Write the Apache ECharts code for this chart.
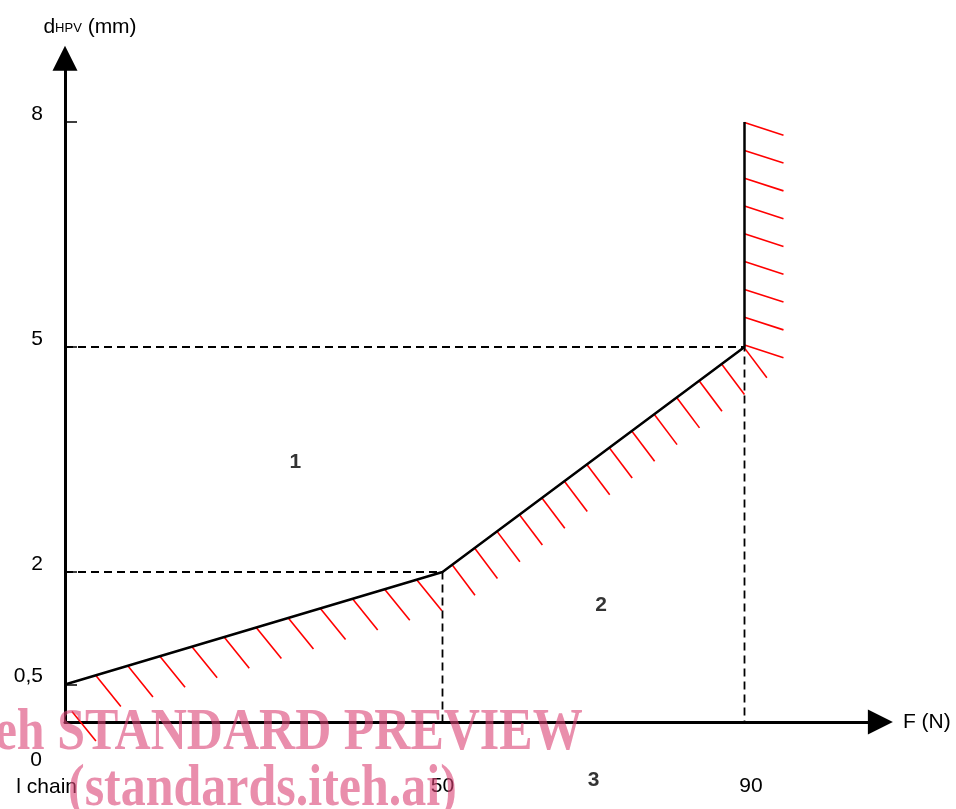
<!DOCTYPE html>
<html><head><meta charset="utf-8">
<script src="https://cdn.jsdelivr.net/npm/echarts@6/dist/echarts.min.js"></script>
<style>html,body{margin:0;padding:0;background:#fff}#c{width:956px;height:809px}</style>
</head><body><div id="c"></div>
<script>
// ---- data ----
const boundaryF = [0, 50, 90, 90];
const boundaryD = [0.5, 2, 5, 8];
const guideF = [50, 90];
const guideD = [2, 5];
const xTickValues = [0, 50, 90];
const yTickValues = [0.5, 2, 5, 8];
const regionNames = ['1', '2', '3'];
const regionF = [30.5, 71, 70];
const regionD = [3.47, 1.56, -0.77];
const xAxisName = 'F (N)';
const yAxisNameParts = ['d', 'HPV', ' (mm)'];
const sideNote = 'l chain';
const watermark = ['iTeh STANDARD PREVIEW', '(standards.iteh.ai)'];

const FONT = '"Liberation Sans", Arial, sans-serif';
const chart = echarts.init(document.getElementById('c'), null, {renderer: 'canvas'});

const boundaryData = boundaryF.map((f, i) => [f, boundaryD[i]]);
const guideSeries = guideF.map((f, i) => ({
  type: 'line', data: [[0, guideD[i]], [f, guideD[i]], [f, 0]], symbol: 'none', silent: true,
  lineStyle: {color: '#000', width: 1.8, type: [8, 5]}, z: 3
}));

function renderHatch(params, api) {
  const P = boundaryData.map(p => api.coord(p));
  const origin = api.coord([0, 0]);
  const segs = [
    {p0: P[0], p1: P[1], start: 32, step: 33.5, ang: 51, len: 40},
    {p0: P[1], p1: P[2], start: 12, step: 28, ang: 53, len: 38},
    {p0: P[2], p1: P[3], start: 2, step: 27.8, ang: 18, len: 41},
    {p0: P[0], p1: origin, start: 27, step: 1000, ang: 51, len: 38, shift: 7}
  ];
  const children = [];
  segs.forEach(s => {
    const dx = s.p1[0] - s.p0[0], dy = s.p1[1] - s.p0[1];
    const L = Math.hypot(dx, dy);
    const ux = dx / L, uy = dy / L;
    const hx = Math.cos(s.ang * Math.PI / 180) * s.len, hy = Math.sin(s.ang * Math.PI / 180) * s.len;
    for (let t = s.start; t <= L + 0.5; t += s.step) {
      const x = s.p0[0] + ux * t + (s.shift || 0), y = s.p0[1] + uy * t;
      children.push({type: 'line', shape: {x1: x, y1: y, x2: x + hx, y2: y + hy},
        style: {stroke: '#ff0000', lineWidth: 1.6}});
    }
  });
  return {type: 'group', children};
}

const WM_FILL = 'rgba(218,66,116,0.6)';
const WM_FONT = 'bold 50px "Liberation Serif", "Times New Roman", serif';

const option = {
  animation: false,
  backgroundColor: '#fff',
  grid: {left: 65, right: 75.6, top: 58.25, bottom: 87, containLabel: false},
  xAxis: {
    type: 'value', min: 0, max: 108, splitLine: {show: false},
    axisLine: {show: true, onZero: false, symbol: ['none', 'triangle'], symbolSize: [25, 25],
      lineStyle: {color: '#000', width: 3}},
    axisTick: {show: false},
    axisLabel: {
      customValues: xTickValues, margin: 28, color: '#000', fontSize: 21, fontFamily: FONT,
      formatter: v => v === 0 ? '{z|0}' : (v === 90 ? '{r|' + v + '}' : '{n|' + v + '}'),
      rich: {
        z: {fontSize: 21, fontFamily: FONT, color: '#000', padding: [0, 58, 0, 0]},
        n: {fontSize: 21, fontFamily: FONT, color: '#000', padding: [26, 0, 0, 0]},
        r: {fontSize: 21, fontFamily: FONT, color: '#000', padding: [26, 0, 0, 13]}
      }
    },
    name: xAxisName, nameLocation: 'end', nameGap: 22.5,
    nameTextStyle: {color: '#000', fontSize: 21, fontFamily: FONT, padding: [62, 0, 0, 0]}
  },
  yAxis: {
    type: 'value', min: 0, max: 8.85, splitLine: {show: false},
    axisLine: {show: true, onZero: false, symbol: ['none', 'triangle'], symbolSize: [25, 25],
      lineStyle: {color: '#000', width: 3}},
    axisTick: {show: true, inside: true, length: 12, customValues: yTickValues,
      lineStyle: {color: '#000', width: 1.5}},
    axisLabel: {customValues: yTickValues, margin: 22, color: '#000', fontSize: 21, fontFamily: FONT,
      formatter: v => '{a|' + String(v).replace('.', ',') + '}',
      rich: {a: {fontSize: 21, fontFamily: FONT, color: '#000', padding: [0, 0, 16, 0]}}},
    name: '{d|' + yAxisNameParts[0] + '}{s|' + yAxisNameParts[1] + '}{m|' + yAxisNameParts[2] + '}',
    nameLocation: 'end', nameGap: 21,
    nameTextStyle: {
      padding: [0, 0, 0, 50],
      rich: {
        d: {fontSize: 21, fontFamily: FONT, color: '#000', verticalAlign: 'bottom'},
        s: {fontSize: 13, fontFamily: FONT, color: '#000', verticalAlign: 'bottom', padding: [0, 0, 2, 0]},
        m: {fontSize: 21, fontFamily: FONT, color: '#000', verticalAlign: 'bottom'}
      }
    }
  },
  series: [
    ...guideSeries,
    {type: 'custom', coordinateSystem: 'cartesian2d', data: [[0, 0]], renderItem: renderHatch,
      clip: false, silent: true, z: 3},
    {type: 'line', data: boundaryData, symbol: 'none', silent: true,
      lineStyle: {color: '#000', width: 2.5}, z: 4},
    {type: 'scatter', clip: false, silent: true, symbolSize: 1,
      itemStyle: {color: 'transparent'},
      data: regionNames.map((n, i) => ({name: n, value: [regionF[i], regionD[i]]})),
      label: {show: true, position: 'inside', formatter: '{b}', color: '#000', fontSize: 21,
        fontWeight: 'bold', fontFamily: FONT}, z: 5}
  ],
  graphic: [
    {type: 'text', x: 77, y: 787, z: 50, silent: true,
      style: {text: sideNote, fill: '#000', font: '21px ' + FONT, align: 'right', verticalAlign: 'middle',
        textAlign: 'right', textVerticalAlign: 'middle'}},
    {type: 'text', x: -48, y: 733, scaleY: 1.2, z: 100, silent: true,
      style: {text: watermark[0], fill: WM_FILL, font: WM_FONT,
        align: 'left', verticalAlign: 'middle', textAlign: 'left', textVerticalAlign: 'middle'}},
    {type: 'text', x: 68, y: 789, scaleY: 1.2, z: 100, silent: true,
      style: {text: watermark[1], fill: WM_FILL, font: WM_FONT,
        align: 'left', verticalAlign: 'middle', textAlign: 'left', textVerticalAlign: 'middle'}}
  ]
};
chart.setOption(option);
</script></body></html>
